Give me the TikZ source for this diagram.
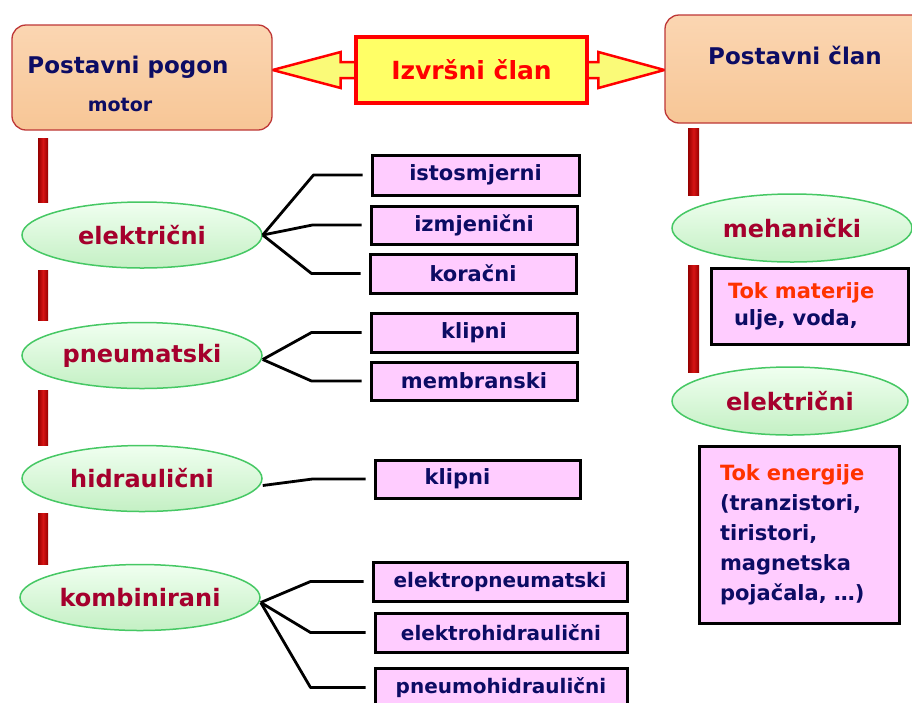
\documentclass[tikz,border=0pt]{standalone}
\usepackage{fontspec}
\setmainfont{DejaVu Sans}
\usetikzlibrary{shapes.geometric,backgrounds}
\definecolor{navy}{RGB}{12,12,100}
\definecolor{maroontx}{RGB}{165,0,45}
\definecolor{peach}{RGB}{247,198,150}
\definecolor{peachtop}{RGB}{251,214,178}
\definecolor{peachline}{RGB}{190,55,55}
\definecolor{ylw}{RGB}{255,255,102}
\definecolor{ylwlight}{RGB}{250,250,120}
\definecolor{pinkf}{RGB}{255,204,255}
\definecolor{grn}{RGB}{70,200,100}
\definecolor{ellt}{RGB}{240,255,240}
\definecolor{ellb}{RGB}{196,240,196}
\definecolor{tokred}{RGB}{255,50,0}
\definecolor{bardark}{RGB}{150,0,0}
\definecolor{barlight}{RGB}{215,20,20}
\tikzset{
  titlebox/.style={draw=peachline,line width=1.3pt,top color=peachtop,bottom color=peach,rounded corners=14pt,inner sep=0pt},
  titletext/.style={text=navy,font=\fontsize{23}{27}\selectfont\bfseries,inner sep=0pt},
  motortext/.style={text=navy,font=\fontsize{19}{23}\selectfont\bfseries,inner sep=0pt},
  exbox/.style={draw=red,line width=4pt,fill=ylw,minimum width=231pt,minimum height=66pt,inner sep=0pt,text=red,font=\fontsize{25}{30}\selectfont\bfseries},
  fatarrow/.style={draw=red,line width=2.5pt,fill=ylwlight,line join=miter},
  ellnode/.style={ellipse,draw=grn,line width=1.5pt,top color=ellt,bottom color=ellb,minimum width=240pt,minimum height=66pt,inner sep=0pt,text=maroontx,font=\fontsize{24}{28}\selectfont\bfseries},
  leaf/.style={draw=black,line width=3pt,fill=pinkf,minimum width=206pt,minimum height=39pt,inner sep=0pt,text=navy,font=\fontsize{21}{25}\selectfont\bfseries},
  tokbox/.style={draw=black,line width=3pt,fill=pinkf,inner ysep=0pt,align=left,text=navy},
  conn/.style={draw=black,line width=2.8pt,shorten >=8pt,line join=round},
  redbar/.style={draw=none,left color=bardark,right color=bardark,middle color=barlight},
}
\begin{document}
\begin{tikzpicture}[x=1pt,y=-1pt]
\useasboundingbox (0,0) rectangle (912,702);
\clip (0,0) rectangle (912,702);

% top row
\node[titlebox,minimum width=260pt,minimum height=105pt] (motorbox) at (142,77.5) {};
\node[titletext] (t1) at (128,67) {Postavni pogon};
\node[motortext] (t2) at (120,105) {motor};
\node[exbox] (izvrsni) at (471.5,70) {Izvršni član};
\node[titlebox,minimum width=262pt,minimum height=108pt] (rbox) at (796,69) {};
\node[titletext] (t3) at (795,55) {Postavni član};
\coordinate (ltip) at (motorbox.east |- izvrsni.west);
\coordinate (rtip) at (rbox.west |- izvrsni.east);
\begin{pgfonlayer}{background}
\fill[white] (0,0) rectangle (912,702);
\draw[fatarrow] ([xshift=6pt,yshift=8pt]izvrsni.west) -- ([xshift=68pt,yshift=8pt]ltip) -- ([xshift=68pt,yshift=18pt]ltip) -- (ltip) -- ([xshift=68pt,yshift=-18pt]ltip) -- ([xshift=68pt,yshift=-8pt]ltip) -- ([xshift=6pt,yshift=-8pt]izvrsni.west);
\draw[fatarrow] ([xshift=-6pt,yshift=8pt]izvrsni.east) -- ([xshift=-66pt,yshift=8pt]rtip) -- ([xshift=-66pt,yshift=18pt]rtip) -- (rtip) -- ([xshift=-66pt,yshift=-18pt]rtip) -- ([xshift=-66pt,yshift=-8pt]rtip) -- ([xshift=-6pt,yshift=-8pt]izvrsni.east);
\end{pgfonlayer}

% left bars
\path[redbar] (38,138) rectangle (48,202);
\path[redbar] (38,270) rectangle (48,320);
\path[redbar] (38,390) rectangle (48,445);
\path[redbar] (38,513) rectangle (48,564);
% right bars
\path[redbar] (688,128) rectangle (699,195);
\path[redbar] (688,265) rectangle (699,372);

% left ellipses
\node[ellnode] (e1) at (142,235) {električni};
\node[ellnode] (e2) at (142,355.5) {pneumatski};
\node[ellnode] (e3) at (142,478.5) {hidraulični};
\node[ellnode] (e4) at (140,597.5) {kombinirani};

% leaf boxes
\node[leaf,minimum width=207pt,minimum height=40pt] (b1) at (475.5,175) {istosmjerni};
\node[leaf,minimum height=38pt] (b2) at (474,225) {izmjenični};
\node[leaf] (b3) at (473,273.5) {koračni};
\node[leaf] (b4) at (474,332.5) {klipni};
\node[leaf,minimum height=38pt] (b5) at (474,381) {membranski};
\node[leaf,minimum width=205pt,minimum height=38pt] (b6) at (477.5,479) {klipni\hspace*{40pt}};
\node[leaf,minimum width=254pt,font=\fontsize{20}{24}\selectfont\bfseries] (b7) at (500,581.5) {elektropneumatski};
\node[leaf,minimum width=252pt,font=\fontsize{20}{24}\selectfont\bfseries] (b8) at (501,632.5) {elektrohidraulični};
\node[leaf,minimum width=252pt,font=\fontsize{20}{24}\selectfont\bfseries] (b9) at (501,687.5) {pneumohidraulični};

% connectors
\draw[conn] (e1.east) -- ([xshift=-57pt]b1.west) -- (b1.west);
\draw[conn] (e1.east) -- ([xshift=-57pt]b2.west) -- (b2.west);
\draw[conn] (e1.east) -- ([xshift=-57pt]b3.west) -- (b3.west);
\draw[conn] ([yshift=-4pt]e2.east) -- ([xshift=-58pt]b4.west) -- (b4.west);
\draw[conn] ([yshift=-4pt]e2.east) -- ([xshift=-58pt]b5.west) -- (b5.west);
\draw[conn] ([yshift=-7pt]e3.east) -- ([xshift=-61pt]b6.west) -- (b6.west);
\draw[conn] ([yshift=-5pt]e4.east) -- ([xshift=-61pt]b7.west) -- (b7.west);
\draw[conn] ([yshift=-5pt]e4.east) -- ([xshift=-63pt]b8.west) -- (b8.west);
\draw[conn] ([yshift=-5pt]e4.east) -- ([xshift=-63pt]b9.west) -- (b9.west);

% right column
\node[ellnode,minimum width=240pt,minimum height=68pt] (m1) at (792,228) {mehanički};
\node[ellnode,minimum width=236pt,minimum height=68pt] (m2) at (790,401) {električni};
\node[tokbox,text width=163pt,inner xsep=17pt,minimum height=76pt,font=\fontsize{21}{27}\selectfont\bfseries] (r1) at (809.5,306) {\textcolor{tokred}{Tok materije}\\\hspace*{6pt}ulje, voda,};
\node[tokbox,text width=158pt,inner xsep=21pt,minimum height=177pt,font=\fontsize{21}{30}\selectfont\bfseries] (r2) at (799,534.5) {\textcolor{tokred}{Tok energije}\\(tranzistori,\\tiristori,\\magnetska\\pojačala, …)};
\end{tikzpicture}
\end{document}
